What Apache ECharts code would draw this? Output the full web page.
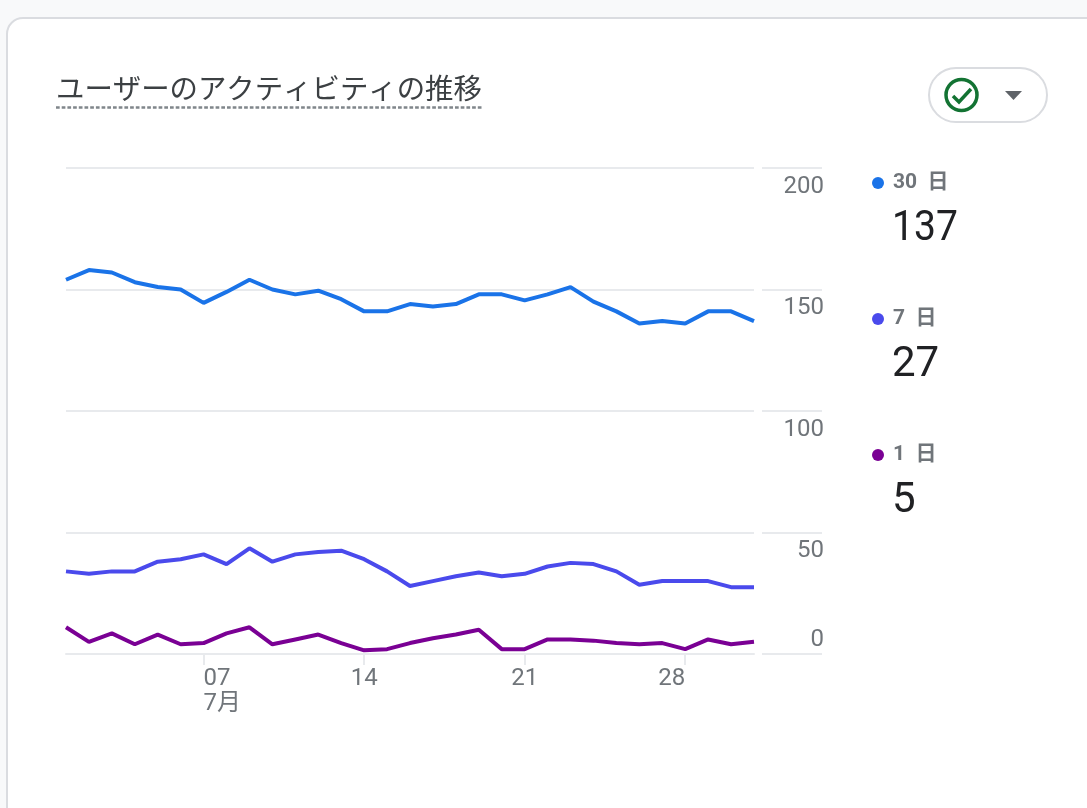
<!DOCTYPE html>
<html>
<head>
<meta charset="utf-8">
<title>ユーザーのアクティビティの推移</title>
<style>
  html, body { margin: 0; padding: 0; background: #f8f9fa; overflow: hidden; }
  #chart { width: 1087px; height: 808px; }
</style>
<script src="https://cdn.jsdelivr.net/npm/echarts@6/dist/echarts.min.js"></script>
</head>
<body>
<div id="chart"></div>
<script>
var FONT = 'Roboto, "Noto Sans CJK JP", sans-serif'
var TITLE_FONT = '"Noto Sans CJK JP", sans-serif'

var chartTitle = 'ユーザーのアクティビティの推移'
var days = ['01', '02', '03', '04', '05', '06', '07', '08', '09', '10', '11', '12', '13', '14', '15', '16',
  '17', '18', '19', '20', '21', '22', '23', '24', '25', '26', '27', '28', '29', '30', '31']
var monthLabels = { '07': '7月' }

var days30 = [154, 158, 157, 153, 151, 150, 144.5, 149, 154, 150, 148, 149.5, 146, 141, 141, 144,
  143, 144, 148, 148, 145.5, 148, 151, 145, 141, 136, 137, 136, 141, 141, 137]
var days7 = [34, 33, 34, 34, 38, 39, 41, 37, 43.5, 38, 41, 42, 42.5, 39, 34, 28,
  30, 32, 33.5, 32, 33, 36, 37.5, 37, 34, 28.5, 30, 30, 30, 27.5, 27.5]
var days1 = [11, 5, 8.5, 4, 8, 4, 4.5, 8.5, 11, 4, 6, 8, 4.5, 1.5, 2, 4.5,
  6.5, 8, 10, 2, 2, 6, 6, 5.5, 4.5, 4, 4.5, 2, 6, 4, 5]

var legendNames = ['30  日', '7  日', '1  日']
var legendValues = [137, 27, 5]
var lineColors = ['#1a73e8', '#4a4aec', '#7a0094']

var gridColor = '#e8eaed'
var labelColor = '#70757a'

// x軸ラベルは左寄せ・中央・右寄せが混在するので軸を分ける
function dayAxis (shown, align, showTick) {
  var isShown = function (i, d) { return shown.indexOf(d) >= 0 }
  return {
    type: 'category',
    gridIndex: 0,
    boundaryGap: false,
    data: days,
    position: 'bottom',
    axisLine: { show: showTick, lineStyle: { color: gridColor, width: 2 } },
    axisTick: { show: showTick, interval: function (i, d) { return ['07', '14', '21', '28'].indexOf(d) >= 0 }, length: 11, lineStyle: { color: gridColor, width: 2 } },
    splitLine: { show: false },
    axisLabel: {
      interval: isShown,
      align: align,
      margin: 12,
      color: labelColor,
      fontFamily: FONT,
      fontSize: 24,
      lineHeight: 25,
      formatter: function (d) {
        return monthLabels[d] ? d + '\n' + monthLabels[d] : d
      }
    }
  }
}

function scaleAxis (values, vAlign, padding) {
  return {
    type: 'value',
    gridIndex: 1,
    position: 'right',
    min: 0,
    max: 200,
    interval: 50,
    axisLine: { show: false },
    axisTick: { show: false },
    splitLine: { show: true, lineStyle: { color: gridColor, width: 2 } },
    axisLabel: {
      inside: true,
      customValues: values,
      verticalAlign: vAlign,
      padding: padding,
      margin: -2,
      color: labelColor,
      fontFamily: FONT,
      fontSize: 24
    }
  }
}

function legendGraphics () {
  var items = []
  legendNames.forEach(function (name, i) {
    var top = 182 + i * 136
    items.push({ type: 'circle', shape: { cx: 878, cy: top + 1, r: 6 }, style: { fill: lineColors[i] } })
    items.push({ type: 'text', x: 893, y: top + 1, style: { text: name, font: 'bold 21px ' + FONT, fill: labelColor, verticalAlign: 'middle' } })
    // 3桁の数字は参照画像だと少し詰まって見える
    items.push({ type: 'text', x: 892, y: top + 47, scaleX: legendValues[i] >= 100 ? 0.93 : 1, style: { text: String(legendValues[i]), font: '42px ' + FONT, fill: '#202124', verticalAlign: 'middle' } })
  })
  return items
}

var graphics = [
  { type: 'rect', z: -10, shape: { x: 7, y: 18, width: 1200, height: 1000, r: 16 }, style: { fill: '#fff', stroke: '#dadce0', lineWidth: 2 } },
  { type: 'text', x: 56, y: 88, style: { text: chartTitle, font: '28.4px ' + TITLE_FONT, fill: '#3c4043', verticalAlign: 'middle' } },
  { type: 'line', shape: { x1: 56, y1: 107.5, x2: 482, y2: 107.5 }, style: { stroke: '#80868b', lineWidth: 2.5, lineDash: [3.7, 2] } },
  { type: 'rect', shape: { x: 929, y: 68, width: 118, height: 54, r: 27 }, style: { fill: '#fff', stroke: '#dadce0', lineWidth: 2 } },
  { type: 'circle', shape: { cx: 961.5, cy: 95, r: 15.5 }, style: { fill: 'none', stroke: '#137333', lineWidth: 3.5 } },
  { type: 'polyline', shape: { points: [[953, 96], [959, 102], [971, 89]] }, style: { fill: 'none', stroke: '#137333', lineWidth: 3.5 } },
  { type: 'polygon', shape: { points: [[1005, 91], [1022, 91], [1013.5, 100]] }, style: { fill: '#5f6368' } }
].concat(legendGraphics())

var option = {
  animation: false,
  backgroundColor: 'transparent',
  textStyle: { fontFamily: FONT },
  graphic: graphics,
  grid: [
    { left: 66, top: 168, width: 688, height: 486 },
    { left: 762, top: 168, width: 60, height: 486 }
  ],
  xAxis: [
    dayAxis(['14', '21'], 'center', true),
    dayAxis(['07'], 'left', false),
    dayAxis(['28'], 'right', false),
    { type: 'value', gridIndex: 1, show: false }
  ],
  yAxis: [
    {
      type: 'value',
      gridIndex: 0,
      min: 0,
      max: 200,
      interval: 50,
      axisLine: { show: false },
      axisTick: { show: false },
      axisLabel: { show: false },
      splitLine: { show: true, lineStyle: { color: gridColor, width: 2 } }
    },
    scaleAxis([50, 100, 150, 200], 'top', [7, 0, 0, 0]),
    scaleAxis([0], 'bottom', [0, 0, 2, 0])
  ],
  series: [days30, days7, days1].map(function (values, i) {
    return {
      type: 'line',
      data: values,
      xAxisIndex: 0,
      yAxisIndex: 0,
      showSymbol: false,
      silent: true,
      lineStyle: { color: lineColors[i], width: 4 }
    }
  })
}

var dom = echarts.init(document.getElementById('chart'), null, { renderer: 'canvas' })
dom.setOption(option)
</script>
</body>
</html>
